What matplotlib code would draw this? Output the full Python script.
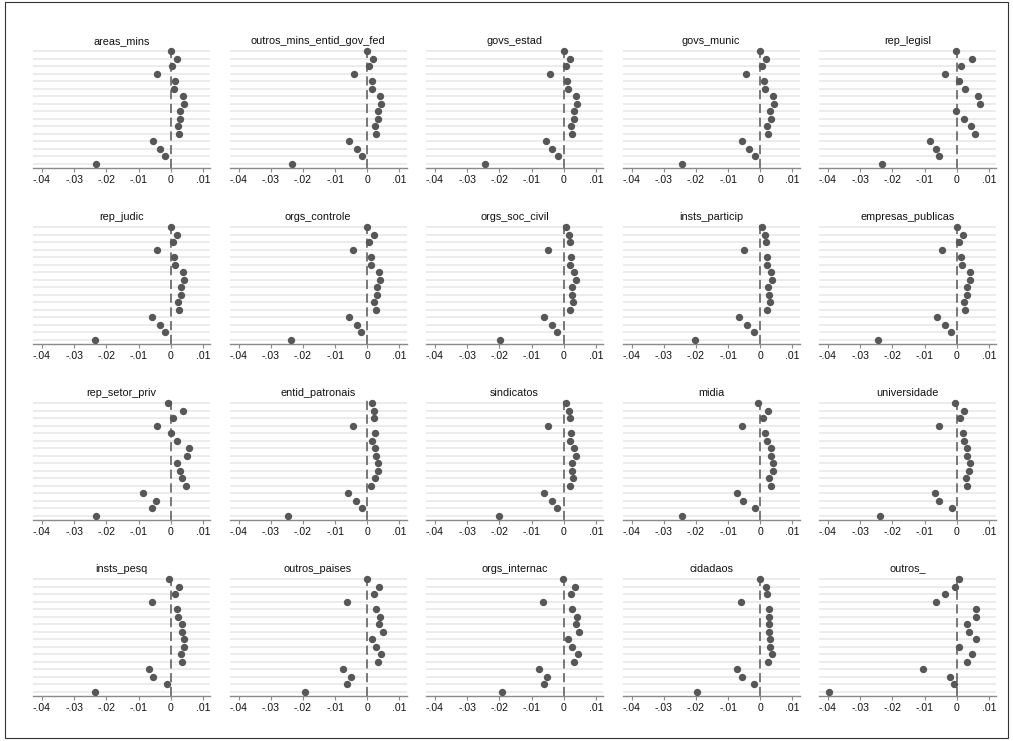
import numpy as np
import matplotlib
matplotlib.use("Agg")
import matplotlib.pyplot as plt
from matplotlib.patches import Rectangle

plt.rcParams['font.family'] = ['Liberation Sans', 'DejaVu Sans']

titles = ["areas_mins", "outros_mins_entid_gov_fed", "govs_estad", "govs_munic", "rep_legisl",
          "rep_judic", "orgs_controle", "orgs_soc_civil", "insts_particip", "empresas_publicas",
          "rep_setor_priv", "entid_patronais", "sindicatos", "midia", "universidade",
          "insts_pesq", "outros_paises", "orgs_internac", "cidadaos", "outros_"]

# coefficients, top row first (16 per panel)
areas_mins = [0, .0018, .0005, -.0042, .0012, .0011, .0038, .004, .003, .003, .0023, .0025, -.0056, -.0032, -.0018, -.0231]
outros_mins_entid_gov_fed = [0, .0019, .0007, -.0042, .0014, .0014, .004, .0043, .0032, .0032, .0023, .0026, -.0056, -.0033, -.0017, -.0233]
govs_estad = [0, .0019, .0006, -.0043, .0011, .0014, .0039, .0042, .0032, .0033, .0022, .0025, -.0056, -.0035, -.0017, -.0246]
govs_munic = [0, .0018, .0006, -.0044, .0011, .0014, .0039, .0042, .0031, .0033, .0021, .0025, -.0057, -.0036, -.0017, -.0243]
rep_legisl = [-.0002, .0046, .0014, -.0038, .0006, .0026, .0065, .0073, -.0002, .0023, .0043, .0056, -.0082, -.0065, -.0054, -.0233]
rep_judic = [0, .0019, .0006, -.0043, .0011, .0013, .0038, .0041, .0031, .0032, .0023, .0026, -.0057, -.0034, -.0018, -.0236]
orgs_controle = [0, .002, .0005, -.0044, .0012, .0013, .0037, .0041, .003, .0031, .0022, .0026, -.0058, -.0033, -.0018, -.0238]
orgs_soc_civil = [.0006, .0015, .0018, -.0048, .0022, .002, .0033, .0039, .0025, .0027, .003, .0021, -.0061, -.0036, -.002, -.0198]
insts_particip = [.0005, .0014, .0017, -.005, .0021, .002, .0032, .0038, .0024, .0027, .0029, .002, -.0066, -.004, -.002, -.0204]
empresas_publicas = [0, .002, .0006, -.0045, .0012, .0016, .004, .0042, .0032, .0033, .0023, .0027, -.006, -.0035, -.0018, -.0244]
rep_setor_priv = [-.001, .0038, .0008, -.0044, .0001, .0019, .0057, .0052, .002, .003, .0034, .0048, -.0086, -.0045, -.0059, -.0232]
entid_patronais = [.0014, .002, .0022, -.0045, .0025, .0014, .0025, .0028, .0032, .0033, .0023, .0012, -.0059, -.0034, -.0016, -.0245]
sindicatos = [.0006, .0015, .0018, -.0049, .0022, .0021, .0033, .0039, .0025, .0027, .003, .0021, -.0062, -.0037, -.002, -.02]
midia = [-.0007, .0024, .001, -.0057, .0016, .0021, .0033, .0034, .0039, .0039, .0028, .0032, -.0072, -.0054, -.0015, -.0242]
universidade = [-.0006, .0023, .0011, -.0055, .0018, .0022, .0033, .0033, .004, .0039, .0029, .0031, -.0069, -.0054, -.0015, -.0238]
insts_pesq = [-.0005, .0026, .0014, -.0057, .002, .0023, .0035, .0035, .0041, .0041, .0031, .0034, -.0069, -.0054, -.0012, -.0234]
outros_paises = [-.0002, .0035, .0022, -.0063, .0026, .004, .0037, .0048, .0014, .0028, .0042, .0032, -.0075, -.0049, -.0062, -.0192]
orgs_internac = [-.0002, .0035, .0022, -.0065, .0025, .004, .0037, .0048, .0014, .0025, .0043, .0031, -.0077, -.0051, -.0062, -.0192]
cidadaos = [0, .0018, .0022, -.006, .0028, .0028, .0026, .0028, .0031, .0031, .0035, .0025, -.0072, -.0057, -.0018, -.0198]
outros_ = [.0008, -.0005, -.0036, -.0064, .0061, .006, .0033, .0038, .0061, .0008, .0047, .0031, -.0105, -.0021, -.0007, -.0398]

panels = [areas_mins, outros_mins_entid_gov_fed, govs_estad, govs_munic, rep_legisl,
          rep_judic, orgs_controle, orgs_soc_civil, insts_particip, empresas_publicas,
          rep_setor_priv, entid_patronais, sindicatos, midia, universidade,
          insts_pesq, outros_paises, orgs_internac, cidadaos, outros_]

xticks = [-.04, -.03, -.02, -.01, 0, .01]
xticklabels = ["-.04", "-.03", "-.02", "-.01", "0", ".01"]

W, H = 1013, 741
fig = plt.figure(figsize=(W / 100, H / 100), dpi=100)
fig.patch.set_facecolor("white")

# outer frame
fig.add_artist(Rectangle((5 / W, 3 / H), 1003 / W, 736 / H, transform=fig.transFigure,
                         fill=False, edgecolor="#333333", linewidth=0.8))

for k, (title, vals) in enumerate(zip(titles, panels)):
    r, c = divmod(k, 5)
    left = 33 + 196.5 * c
    top = 46 + 176 * r
    bottom = 168.3 + 176 * r
    ax = fig.add_axes([left / W, 1 - bottom / H, 177 / W, (bottom - top) / H])
    n = len(vals)
    y = np.arange(n)[::-1]
    for yy in y:
        ax.axhline(yy, color="#ebebeb", linewidth=1.3, zorder=0)
    ax.axvline(0, color="#555555", linewidth=1.1, linestyle=(0, (6, 3)), zorder=1)
    ax.scatter(vals, y, s=28, color="#575757", zorder=3, linewidths=0, clip_on=False)
    ax.set_xlim(-.0428, .0122)
    ax.set_ylim(-0.62, n - 1 + 0.72)
    ax.set_xticks(xticks)
    ax.set_xticklabels(xticklabels, fontsize=7.6, color="#111111")
    ax.set_yticks([])
    for s in ["top", "right", "left"]:
        ax.spines[s].set_visible(False)
    ax.spines["bottom"].set_color("#8a8a8a")
    ax.spines["bottom"].set_linewidth(1.0)
    ax.tick_params(axis="x", length=3, width=0.8, color="#8a8a8a", pad=2)
    ax.set_title(title, fontsize=7.8, color="#111111", pad=1)

fig.savefig("out.png", dpi=100, facecolor="white")
